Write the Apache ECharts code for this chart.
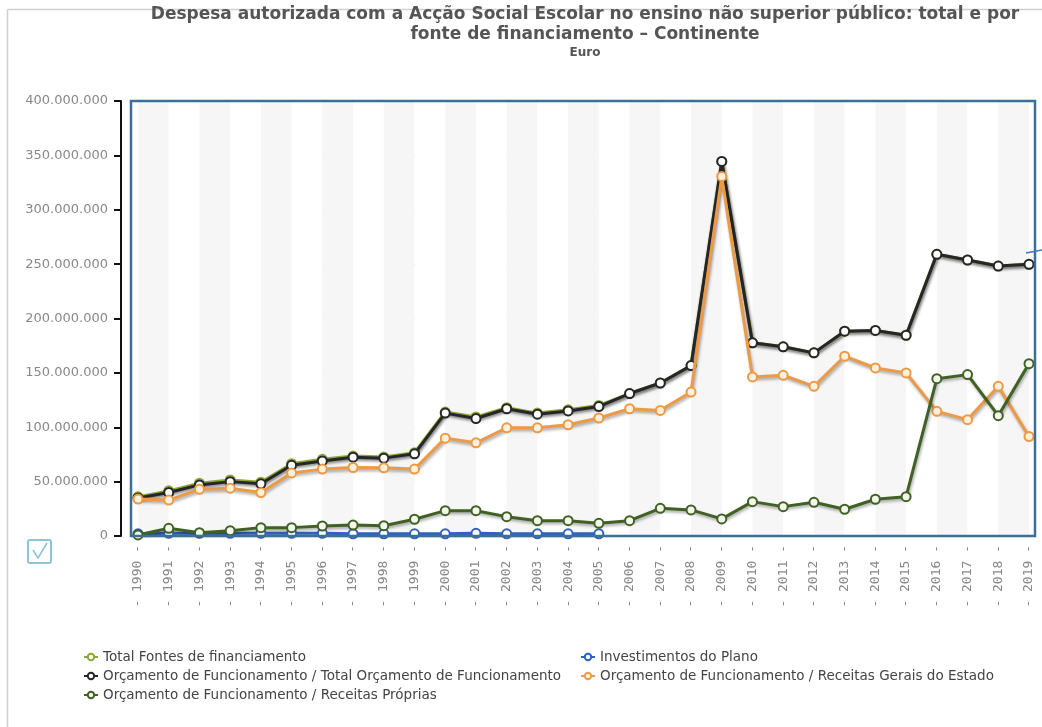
<!DOCTYPE html>
<html>
<head>
    <meta charset="utf-8">
    <title>Acção Social Escolar</title>
    <script type="text/javascript" src="https://cdn.jsdelivr.net/npm/echarts@6/dist/echarts.min.js"></script>
    <style>
        body {
            margin: 0px;
            padding: 0px;
            background: #fff;
        }
    </style>
</head>
<body>
<div id="chartRegion" style="width: 1042px; height: 727px;"></div>
<script type="text/javascript">
    // anos
    var years = ['1990', '1991', '1992', '1993', '1994', '1995', '1996', '1997', '1998', '1999',
        '2000', '2001', '2002', '2003', '2004', '2005', '2006', '2007', '2008', '2009',
        '2010', '2011', '2012', '2013', '2014', '2015', '2016', '2017', '2018', '2019'];

    // valores em milhões de euros
    var totalFontes = [36, 41.5, 48.5, 51.5, 49.5, 66.5, 70.5, 73.5, 72.6, 76.6,
        114, 109.5, 118, 113, 116, 120, 131, 140.7, 156.7, 344.4,
        177.6, 174, 168.4, 188.3, 189, 184.6, 259, 253.8, 248.2, 249.8];
    var investimentos = [2, 2.5, 2.5, 2.5, 2.5, 2.5, 2.5, 2, 2, 2,
        2, 2.5, 2, 2, 2, 2, null, null, null, null,
        null, null, null, null, null, null, null, null, null, null];
    var totalOrcamento = [35, 40, 47, 50, 48, 65, 69, 72.5, 71.6, 75.6,
        113, 108, 117, 112, 115, 119, 131, 140.7, 156.7, 344.4,
        177.6, 174, 168.4, 188.3, 189, 184.6, 259, 253.8, 248.2, 249.8];
    var receitasGerais = [34, 33, 43, 44, 40, 58, 61.5, 63, 62.7, 61.5,
        90, 85.7, 99.5, 99.5, 102.3, 108.5, 117, 115.5, 132.4, 330.6,
        146.3, 147.8, 137.6, 165.3, 154.5, 150, 114.6, 107, 137.6, 91.5];
    var receitasProprias = [1, 7.1, 3, 4.9, 7.7, 7.7, 9.2, 10.1, 9.5, 15.4,
        23.3, 23.3, 17.8, 14.1, 14.1, 11.7, 14.1, 25.5, 24, 15.7,
        31.6, 27, 31, 24.6, 33.8, 36.2, 144.7, 148.4, 110.6, 158.5];

    var seriesNames = [
        'Total Fontes de financiamento',
        'Investimentos do Plano',
        'Orçamento de Funcionamento / Total Orçamento de Funcionamento',
        'Orçamento de Funcionamento / Receitas Gerais do Estado',
        'Orçamento de Funcionamento / Receitas Próprias'
    ];
    var seriesColors = ['#8aa83a', '#2f62c0', '#262626', '#ec9a45', '#3f6123'];
    var markerFill = ['#fff', '#fff', '#fff', '#fdf1dc', '#f4f8ec'];
    var seriesData = [totalFontes, investimentos, totalOrcamento, receitasGerais, receitasProprias];

    function fmtNumber(v) {
        return String(Math.round(v * 1000000)).replace(/\B(?=(\d{3})+(?!\d))/g, '.');
    }

    var series = [];
    for (var i = 0; i < seriesNames.length; i++) {
        series.push({
            name: seriesNames[i],
            type: 'line',
            data: seriesData[i],
            z: i === 0 ? 1 : 2 + i,
            symbol: 'circle',
            symbolSize: 9,
            showAllSymbol: true,
            connectNulls: false,
            lineStyle: {
                color: seriesColors[i],
                width: 3,
                shadowColor: 'rgba(0,0,0,0.35)',
                shadowBlur: 3,
                shadowOffsetX: 1,
                shadowOffsetY: 2
            },
            itemStyle: {
                color: markerFill[i],
                borderColor: seriesColors[i],
                borderWidth: 2
            },
            emphasis: {disabled: true}
        });
    }

    // posição de cada legenda (duas colunas)
    var legendPos = [[83, 650], [580, 650], [83, 669], [580, 669], [83, 688]];
    var legends = [];
    for (var j = 0; j < seriesNames.length; j++) {
        legends.push({
            data: [seriesNames[j]],
            left: legendPos[j][0],
            top: legendPos[j][1],
            padding: 0,
            itemWidth: 14,
            itemHeight: 8,
            itemGap: 4,
            selectedMode: false,
            textStyle: {fontSize: 13.5, color: '#444', fontFamily: 'DejaVu Sans'}
        });
    }

    var chart = echarts.init(document.getElementById('chartRegion'));
    var option = {
        animation: false,
        backgroundColor: '#fff',
        textStyle: {fontFamily: 'DejaVu Sans'},
        legend: legends,
        grid: {left: 138, right: 13, top: 101, bottom: 191},
        xAxis: {
            type: 'category',
            data: years,
            boundaryGap: false,
            axisLine: {show: false},
            axisTick: {show: false},
            splitLine: {show: false},
            splitArea: {show: true, areaStyle: {color: ['#f6f6f6', '#ffffff']}},
            axisLabel: {
                rotate: 90,
                margin: 9,
                fontSize: 13,
                fontFamily: 'DejaVu Sans Mono',
                color: '#888',
                formatter: function (v) {
                    return '- ' + v + ' -';
                }
            }
        },
        yAxis: {
            type: 'value',
            min: 0,
            max: 400,
            interval: 50,
            offset: 17,
            axisLine: {show: true, lineStyle: {color: '#111', width: 2}},
            axisTick: {show: true, length: 7, lineStyle: {color: '#111', width: 2}},
            axisLabel: {
                margin: 13,
                fontSize: 13,
                color: '#888',
                formatter: fmtNumber
            },
            splitLine: {show: true, lineStyle: {color: '#bbb', type: [1, 3], width: 1}}
        },
        graphic: [
            // moldura exterior
            {type: 'line', shape: {x1: 7.5, y1: 9.5, x2: 1042, y2: 9.5}, style: {stroke: '#cfcfcf', lineWidth: 1.5}},
            {type: 'line', shape: {x1: 7.5, y1: 9.5, x2: 7.5, y2: 727}, style: {stroke: '#cfcfcf', lineWidth: 1.5}},
            // título
            {type: 'text', x: 585, y: 6, style: {
                text: 'Despesa autorizada com a Acção Social Escolar no ensino não superior público: total e por',
                fill: '#555', font: 'bold 17px "DejaVu Sans"', textAlign: 'center'}},
            {type: 'text', x: 585, y: 26, style: {
                text: 'fonte de financiamento – Continente',
                fill: '#555', font: 'bold 17px "DejaVu Sans"', textAlign: 'center'}},
            {type: 'text', x: 585, y: 47, style: {
                text: 'Euro', fill: '#555', font: 'bold 12px "DejaVu Sans"', textAlign: 'center'}},
            // caixa da área do gráfico
            {type: 'rect', z: 50, shape: {x: 131, y: 101, width: 904, height: 435},
                style: {fill: 'none', stroke: '#3b6f98', lineWidth: 2.5}},
            {type: 'line', z: 50, shape: {x1: 1026, y1: 253, x2: 1042, y2: 250}, style: {stroke: '#3b78c0', lineWidth: 1.5}},
            // caixa de verificação
            {type: 'rect', shape: {x: 28, y: 540, width: 23, height: 23, r: 2},
                style: {fill: '#fff', stroke: '#8cc3d8', lineWidth: 2}},
            {type: 'polyline', shape: {points: [[33, 550], [38, 558], [47, 543]]},
                style: {fill: 'none', stroke: '#8cc3d8', lineWidth: 1.5}}
        ],
        series: series
    };
    chart.setOption(option);
</script>
</body>
</html>
